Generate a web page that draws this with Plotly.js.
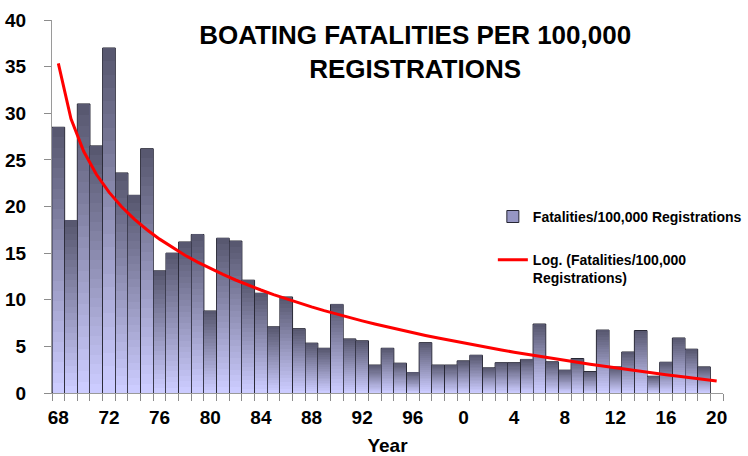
<!DOCTYPE html>
<html>
<head>
<meta charset="utf-8">
<script src="https://cdn.plot.ly/plotly-3.0.1.min.js"></script>
<style>
  html, body { margin: 0; padding: 0; background: #ffffff; }
  #chart { width: 748px; height: 456px; }
</style>
</head>
<body>
<div id="chart"></div>
<script>
// ---- data ----
const years = [1968, 1969, 1970, 1971, 1972, 1973, 1974, 1975, 1976, 1977,
               1978, 1979, 1980, 1981, 1982, 1983, 1984, 1985, 1986, 1987,
               1988, 1989, 1990, 1991, 1992, 1993, 1994, 1995, 1996, 1997,
               1998, 1999, 2000, 2001, 2002, 2003, 2004, 2005, 2006, 2007,
               2008, 2009, 2010, 2011, 2012, 2013, 2014, 2015, 2016, 2017,
               2018, 2019];
const fatalities = [28.5, 18.5, 31.0, 26.5, 37.0, 23.6, 21.2, 26.2, 13.1, 15.0,
                    16.2, 17.0, 8.8, 16.6, 16.3, 12.1, 10.7, 7.1, 10.3, 6.9,
                    5.35, 4.8, 9.5, 5.8, 5.6, 3.0, 4.8, 3.2, 2.2, 5.4,
                    3.0, 3.0, 3.45, 4.05, 2.7, 3.25, 3.25, 3.6, 7.4, 3.35,
                    2.45, 3.7, 2.3, 6.75, 2.8, 4.4, 6.7, 1.8, 3.3, 5.9,
                    4.7, 2.8];
const trendYears = years.concat([2020]);
const tickVals = [1968, 1972, 1976, 1980, 1984, 1988, 1992, 1996, 2000, 2004, 2008, 2012, 2016, 2020];
const tickText = ['68', '72', '76', '80', '84', '88', '92', '96', '0', '4', '8', '12', '16', '20'];
const barName = 'Fatalities/100,000 Registrations';
const trendName = 'Log. (Fatalities/100,000<br>Registrations)';

// ---- logarithmic trendline (least squares on ln(period index)) ----
const lx = fatalities.map((v, i) => Math.log(i + 1));
const n = fatalities.length;
const mx = lx.reduce((a, b) => a + b, 0) / n;
const my = fatalities.reduce((a, b) => a + b, 0) / n;
let sxy = 0, sxx = 0;
for (let i = 0; i < n; i++) { sxy += (lx[i] - mx) * (fatalities[i] - my); sxx += (lx[i] - mx) ** 2; }
const slope = sxy / sxx, icpt = my - slope * mx;
const trend = trendYears.map((y, i) => slope * Math.log(i + 1) + icpt);

// ---- gradient bars built by overlaying shrinking layers ----
const dark = [88, 88, 112], light = [204, 204, 255];
const LAYERS = 26;
const traces = [];
traces.push({
  type: 'bar', x: years, y: fatalities, width: 1,
  name: barName, legendgroup: 'a',
  marker: { color: 'rgb(150,150,196)', line: { color: '#262633', width: 1 } },
  hoverinfo: 'skip'
});
for (let k = 0; k < LAYERS; k++) {
  const f = 1 - k / LAYERS;
  const t = k / (LAYERS - 1);
  const c = dark.map((d, j) => Math.round(d + (light[j] - d) * t));
  traces.push({
    type: 'bar', x: years, y: fatalities.map(v => v * f), width: 0.92,
    showlegend: false, hoverinfo: 'skip',
    marker: { color: 'rgb(' + c.join(',') + ')', line: { width: 0 } }
  });
}
traces.push({
  type: 'scatter', mode: 'lines', x: trendYears, y: trend,
  name: trendName, legendgroup: 'b',
  line: { color: '#ff0000', width: 3 }
});

const tickFont = { family: 'Liberation Sans, Arial, sans-serif', size: 19, color: '#000', weight: 'bold' };

const layout = {
  width: 748, height: 456,
  margin: { l: 52, r: 25, t: 20, b: 63, autoexpand: false },
  paper_bgcolor: '#ffffff', plot_bgcolor: '#ffffff',
  barmode: 'overlay', bargap: 0,
  title: {
    text: 'BOATING FATALITIES PER 100,000<br>REGISTRATIONS',
    font: { family: 'Liberation Sans, Arial, sans-serif', size: 26, color: '#000', weight: 'bold' },
    x: 0.555, xanchor: 'center', xref: 'container',
    y: 1 - 44 / 456, yanchor: 'top', yref: 'container'
  },
  xaxis: {
    type: 'linear', range: [1967.5, 2020.5],
    tickmode: 'array', tickvals: tickVals, ticktext: tickText,
    ticks: 'outside', ticklen: 7, tickcolor: 'rgba(0,0,0,0)',
    minor: { tickmode: 'array', tickvals: trendYears.map(y => y - 0.5).concat([2020.5]), ticks: 'outside', ticklen: 7, tickcolor: '#8c8c8c', tickwidth: 1, showgrid: false },
    showline: true, linecolor: '#9a9a9a', linewidth: 1,
    showgrid: false, zeroline: false, automargin: false,
    tickfont: tickFont,
    title: { text: 'Year', font: { family: 'Liberation Sans, Arial, sans-serif', size: 19, color: '#000', weight: 'bold' }, standoff: 12 }
  },
  yaxis: {
    range: [0, 40], dtick: 5, tick0: 0,
    ticks: 'outside', ticklen: 7, tickcolor: '#8c8c8c',
    showline: true, linecolor: '#9a9a9a', linewidth: 1,
    showgrid: false, zeroline: false, automargin: false,
    ticklabelstandoff: 14,
    tickfont: tickFont
  },
  legend: {
    x: 0.657, xanchor: 'left', y: 0.515, yanchor: 'top',
    bgcolor: 'rgba(0,0,0,0)', tracegroupgap: 22, valign: 'top',
    font: { family: 'Liberation Sans, Arial, sans-serif', size: 14, color: '#000', weight: 'bold' }
  },
  showlegend: true
};

Plotly.newPlot('chart', traces, layout, { displayModeBar: false, staticPlot: true });
</script>
</body>
</html>
